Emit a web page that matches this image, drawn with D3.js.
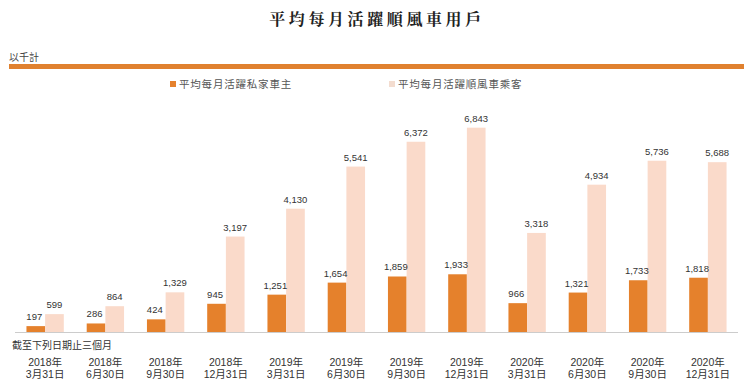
<!DOCTYPE html>
<html><head><meta charset="utf-8">
<script src="https://cdn.jsdelivr.net/npm/d3@7"></script>
<style>body{margin:0;background:#fff}svg{display:block}</style>
</head><body>
<svg id="c" width="756" height="392"></svg>
<script>
const categoriesYear = ["2018年","2018年","2018年","2018年","2019年","2019年","2019年","2019年","2020年","2020年","2020年","2020年"];
const categoriesDate = ["3月31日","6月30日","9月30日","12月31日","3月31日","6月30日","9月30日","12月31日","3月31日","6月30日","9月30日","12月31日"];
const seriesNames = ["平均每月活躍私家車主","平均每月活躍順風車乘客"];
const drivers = [197,286,424,945,1251,1654,1859,1933,966,1321,1733,1818];
const riders = [599,864,1329,3197,4130,5541,6372,6843,3318,4934,5736,5688];
const title = "平均每月活躍順風車用戶";
const unitLabel = "以千計";
const axisTitle = "截至下列日期止三個月";

const colors = ["#E5812C","#FADACA"];
const legendColors = ["#E5812C","#F3DCCF"];
const svg = d3.select("#c");
const sans = "'Liberation Sans', Arial, 'Noto Sans CJK TC', sans-serif";
const cjk = "'Noto Sans CJK TC', sans-serif";
const idx = d3.range(categoriesYear.length);

const x0 = d3.scaleBand().domain(idx).range([15, 738]).paddingInner(0.38).paddingOuter(0.19);
const x1 = d3.scaleBand().domain([0,1]).range([0, x0.bandwidth()]);
const y = d3.scaleLinear().domain([0, 7000]).range([332, 123]);

// title
svg.append("text").attr("x", 377).attr("y", 25).attr("text-anchor","middle")
  .attr("font-family","'Noto Serif CJK TC','Noto Sans CJK TC',serif").attr("font-weight","bold")
  .attr("font-size",16).attr("letter-spacing",3.6).attr("fill","#222").text(title);

svg.append("text").attr("x", 9).attr("y", 61).attr("font-family",cjk).attr("font-size",10)
  .attr("fill","#444").text(unitLabel);
svg.append("rect").attr("x",9).attr("y",64).attr("width",735).attr("height",5).attr("fill","#E0812F");

// legend
const legX = [170, 389];
seriesNames.forEach((n,i)=>{
  svg.append("rect").attr("x",legX[i]).attr("y",81).attr("width",6).attr("height",6).attr("fill",legendColors[i]);
  svg.append("text").attr("x",legX[i]+9).attr("y",88).attr("font-family",cjk).attr("font-size",10.5)
    .attr("letter-spacing",0.8).attr("fill","#555").text(n);
});

// bars
const data = [drivers, riders];
const g = svg.append("g");
data.forEach((vals, s)=>{
  g.selectAll(null).data(idx).enter().append("rect")
    .attr("x", i=>x0(i)+x1(s)).attr("width", x1.bandwidth())
    .attr("y", i=>y(vals[i])).attr("height", i=>y(0)-y(vals[i]))
    .attr("fill", colors[s]);
});
const labelShift = [-1.5, 0];
data.forEach((vals, s)=>{
  g.selectAll(null).data(idx).enter().append("text")
    .attr("x", i=>x0(i)+x1(s)+x1.bandwidth()/2+labelShift[s]).attr("y", i=>y(vals[i])-6)
    .attr("text-anchor","middle").attr("font-family",sans).attr("font-size",9.5)
    .attr("fill","#333").text(i=>d3.format(",")(vals[i]));
});

// axis
const ax = svg.append("g").attr("transform","translate(0,332)")
  .call(d3.axisBottom(x0).tickSize(0).tickFormat(""));
ax.select(".domain").attr("stroke","#ccc").attr("d","M15,0.5H738");

svg.append("text").attr("x",12).attr("y",349).attr("font-family",cjk).attr("font-size",10)
  .attr("fill","#333").text(axisTitle);

idx.forEach(i=>{
  const cx = x0(i)+x0.bandwidth()/2;
  svg.append("text").attr("x",cx).attr("y",366).attr("text-anchor","middle")
    .attr("font-family",sans).attr("font-size",10.5).attr("fill","#333").text(categoriesYear[i]);
  svg.append("text").attr("x",cx).attr("y",378).attr("text-anchor","middle")
    .attr("font-family",sans).attr("font-size",10.5).attr("fill","#333").text(categoriesDate[i]);
});
</script>
</body></html>
